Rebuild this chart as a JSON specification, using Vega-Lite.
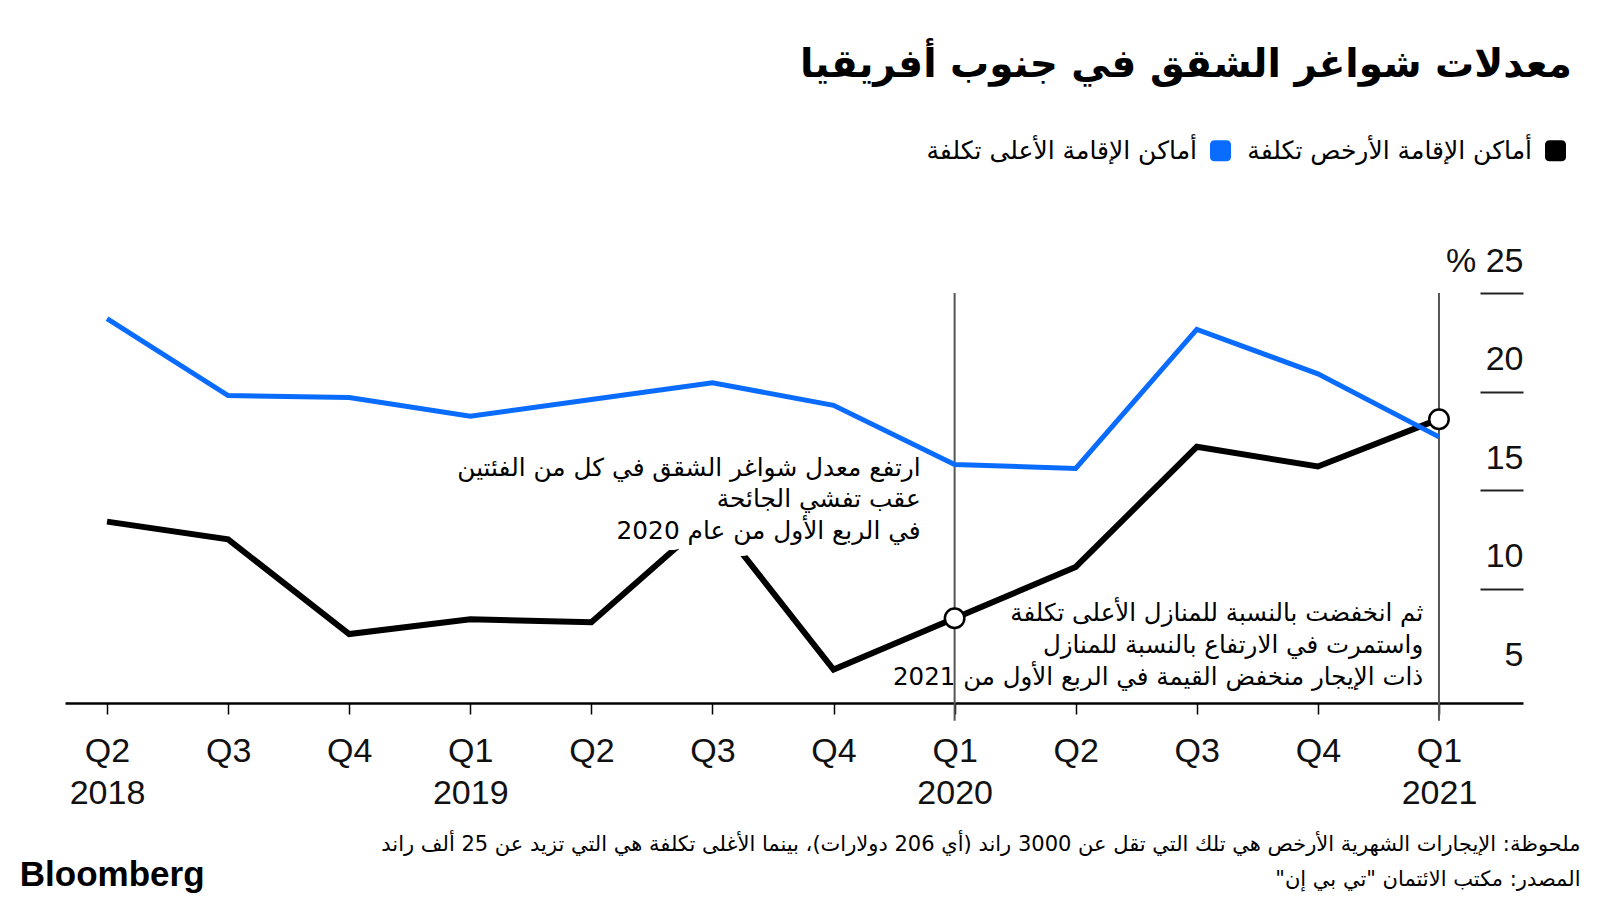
{
  "$schema": "https://vega.github.io/schema/vega-lite/v6.json",
  "width": 1458,
  "height": 410,
  "autosize": {"type": "none"},
  "padding": {"left": 65, "top": 293, "right": 77, "bottom": 197},
  "background": "white",
  "config": {"view": {"stroke": null}, "font": "Liberation Sans"},
  "title": {
    "text": "معدلات شواغر الشقق في جنوب أفريقيا",
    "anchor": "end",
    "align": "right",
    "frame": "group",
    "baseline": "alphabetic",
    "font": "DejaVu Sans",
    "fontSize": 39,
    "fontWeight": "bold",
    "color": "black",
    "dx": 49,
    "dy": -22,
    "offset": 0
  },
  "datasets": {
    "rates": [
      {"i": 0, "quarter": "Q2 2018", "category": "أماكن الإقامة الأرخص تكلفة", "rate": 13.4},
      {"i": 1, "quarter": "Q3 2018", "category": "أماكن الإقامة الأرخص تكلفة", "rate": 12.5},
      {"i": 2, "quarter": "Q4 2018", "category": "أماكن الإقامة الأرخص تكلفة", "rate": 7.7},
      {"i": 3, "quarter": "Q1 2019", "category": "أماكن الإقامة الأرخص تكلفة", "rate": 8.45},
      {"i": 4, "quarter": "Q2 2019", "category": "أماكن الإقامة الأرخص تكلفة", "rate": 8.3},
      {"i": 5, "quarter": "Q3 2019", "category": "أماكن الإقامة الأرخص تكلفة", "rate": 13.7},
      {"i": 6, "quarter": "Q4 2019", "category": "أماكن الإقامة الأرخص تكلفة", "rate": 5.9},
      {"i": 7, "quarter": "Q1 2020", "category": "أماكن الإقامة الأرخص تكلفة", "rate": 8.5},
      {"i": 8, "quarter": "Q2 2020", "category": "أماكن الإقامة الأرخص تكلفة", "rate": 11.1},
      {"i": 9, "quarter": "Q3 2020", "category": "أماكن الإقامة الأرخص تكلفة", "rate": 17.2},
      {"i": 10, "quarter": "Q4 2020", "category": "أماكن الإقامة الأرخص تكلفة", "rate": 16.2},
      {"i": 11, "quarter": "Q1 2021", "category": "أماكن الإقامة الأرخص تكلفة", "rate": 18.6},
      {"i": 0, "quarter": "Q2 2018", "category": "أماكن الإقامة الأعلى تكلفة", "rate": 23.7},
      {"i": 1, "quarter": "Q3 2018", "category": "أماكن الإقامة الأعلى تكلفة", "rate": 19.8},
      {"i": 2, "quarter": "Q4 2018", "category": "أماكن الإقامة الأعلى تكلفة", "rate": 19.7},
      {"i": 3, "quarter": "Q1 2019", "category": "أماكن الإقامة الأعلى تكلفة", "rate": 18.75},
      {"i": 4, "quarter": "Q2 2019", "category": "أماكن الإقامة الأعلى تكلفة", "rate": 19.6},
      {"i": 5, "quarter": "Q3 2019", "category": "أماكن الإقامة الأعلى تكلفة", "rate": 20.45},
      {"i": 6, "quarter": "Q4 2019", "category": "أماكن الإقامة الأعلى تكلفة", "rate": 19.3},
      {"i": 7, "quarter": "Q1 2020", "category": "أماكن الإقامة الأعلى تكلفة", "rate": 16.3},
      {"i": 8, "quarter": "Q2 2020", "category": "أماكن الإقامة الأعلى تكلفة", "rate": 16.1},
      {"i": 9, "quarter": "Q3 2020", "category": "أماكن الإقامة الأعلى تكلفة", "rate": 23.15},
      {"i": 10, "quarter": "Q4 2020", "category": "أماكن الإقامة الأعلى تكلفة", "rate": 20.9},
      {"i": 11, "quarter": "Q1 2021", "category": "أماكن الإقامة الأعلى تكلفة", "rate": 17.7}
    ]
  },
  "data": {"name": "rates"},
  "encoding": {
    "x": {
      "field": "i",
      "type": "quantitative",
      "scale": {"domain": [-0.347, 11.694], "nice": false, "zero": false},
      "axis": {
        "values": [0, 1, 2, 3, 4, 5, 6, 7, 8, 9, 10, 11],
        "labelExpr": "[['Q2','2018'],'Q3','Q4',['Q1','2019'],'Q2','Q3','Q4',['Q1','2020'],'Q2','Q3','Q4',['Q1','2021']][datum.value]",
        "labelFont": "Liberation Sans",
        "labelFontSize": 34,
        "labelColor": "#111111",
        "labelLineHeight": 42,
        "labelBaseline": "top",
        "labelPadding": 20,
        "labelFlush": false,
        "labelOverlap": false,
        "tickSize": 11,
        "tickColor": "black",
        "tickWidth": 1.5,
        "domainColor": "black",
        "domainWidth": 2.5,
        "grid": false,
        "title": ["ملحوظة: الإيجارات الشهرية الأرخص هي تلك التي تقل عن 3000 راند (أي 206 دولارات)، بينما الأغلى تكلفة هي التي تزيد عن 25 ألف راند", "المصدر: مكتب الائتمان \"تي بي إن\"‏"],
        "titleX": 1515,
        "titleY": 147,
        "titleAlign": "right",
        "titleAnchor": "end",
        "titleBaseline": "alphabetic",
        "titleFont": "DejaVu Sans",
        "titleFontSize": 21,
        "titleFontWeight": "normal",
        "titleColor": "black",
        "titleLineHeight": 35
      }
    },
    "y": {
      "field": "rate",
      "type": "quantitative",
      "scale": {"domain": [4.2, 25], "nice": false, "zero": false},
      "axis": {
        "orient": "right",
        "values": [5, 10, 15, 20, 25],
        "labelExpr": "datum.value == 25 ? '%  25' : datum.label",
        "tickSize": -43,
        "tickColor": "#222222",
        "tickWidth": 2,
        "tickOpacity": {"condition": {"test": "datum.value == 5", "value": 0}, "value": 1},
        "domain": false,
        "grid": false,
        "labelAlign": "right",
        "labelBaseline": "alphabetic",
        "labelOffset": -22,
        "labelPadding": 43,
        "labelFontSize": 34,
        "labelColor": "#111111",
        "title": null
      }
    }
  },
  "layer": [
    {
      "transform": [
        {"filter": {"field": "category", "equal": "أماكن الإقامة الأرخص تكلفة"}},
        {"filter": "datum.i == 7 || datum.i == 11"}
      ],
      "mark": {"type": "rule", "color": "#555555", "strokeWidth": 2},
      "encoding": {"y": {"datum": 25}, "y2": {"datum": 3.3}}
    },
    {
      "transform": [{"filter": {"field": "category", "equal": "أماكن الإقامة الأرخص تكلفة"}}],
      "mark": {"type": "line", "strokeWidth": 6, "strokeJoin": "miter"},
      "encoding": {
        "color": {
          "field": "category",
          "type": "nominal",
          "scale": {"domain": ["أماكن الإقامة الأعلى تكلفة", "أماكن الإقامة الأرخص تكلفة"], "range": ["#0a6cff", "#000000"]},
          "legend": {
            "orient": "none",
            "legendX": 1143,
            "legendY": -155,
            "direction": "horizontal",
            "title": null,
            "labelFont": "DejaVu Sans",
            "labelFontSize": 25,
            "labelColor": "black",
            "labelAlign": "right",
            "labelOffset": -36,
            "labelLimit": 0,
            "columnPadding": 16,
            "symbolType": "M -0.55 -1 L 0.55 -1 Q 1 -1 1 -0.55 L 1 0.55 Q 1 1 0.55 1 L -0.55 1 Q -1 1 -1 0.55 L -1 -0.55 Q -1 -1 -0.55 -1 Z",
            "symbolSize": 441,
            "symbolStrokeWidth": 0,
            "encode": {"symbols": {"update": {"fill": {"scale": "color", "field": "value"}, "strokeWidth": {"value": 0}, "opacity": {"value": 1}}}}
          }
        }
      }
    },
    {
      "transform": [{"filter": {"field": "category", "equal": "أماكن الإقامة الأعلى تكلفة"}}],
      "mark": {"type": "line", "strokeWidth": 5, "strokeJoin": "miter"},
      "encoding": {
        "color": {"field": "category", "type": "nominal"}
      }
    },
    {
      "transform": [{"filter": "datum.i == 0"}, {"filter": {"field": "category", "equal": "أماكن الإقامة الأرخص تكلفة"}}],
      "mark": {"type": "text", "text": "في الربع الأول من عام 2020", "align": "right", "baseline": "alphabetic", "font": "DejaVu Sans", "fontSize": 24.8, "color": "white", "stroke": "white", "strokeWidth": 22, "strokeJoin": "round"},
      "encoding": {"x": {"datum": 6.72}, "y": {"datum": 12.525}}
    },
    {
      "transform": [{"filter": "datum.i == 0"}, {"filter": {"field": "category", "equal": "أماكن الإقامة الأرخص تكلفة"}}],
      "mark": {"type": "text", "text": ["ارتفع معدل شواغر الشقق في كل من الفئتين", "عقب تفشي الجائحة", "في الربع الأول من عام 2020"], "align": "right", "baseline": "alphabetic", "lineHeight": 31.5, "font": "DejaVu Sans", "fontSize": 24.8, "color": "black"},
      "encoding": {"x": {"datum": 6.72}, "y": {"datum": 15.72}}
    },
    {
      "transform": [{"filter": "datum.i == 0"}, {"filter": {"field": "category", "equal": "أماكن الإقامة الأرخص تكلفة"}}],
      "mark": {"type": "text", "text": ["ثم انخفضت بالنسبة للمنازل الأعلى تكلفة", "واستمرت في الارتفاع بالنسبة للمنازل", "ذات الإيجار منخفض القيمة في الربع الأول من 2021"], "align": "right", "baseline": "alphabetic", "lineHeight": 32, "font": "DejaVu Sans", "fontSize": 24.5, "color": "black"},
      "encoding": {"x": {"datum": 10.87}, "y": {"datum": 8.37}}
    },
    {
      "transform": [
        {"filter": {"field": "category", "equal": "أماكن الإقامة الأرخص تكلفة"}},
        {"filter": "datum.i == 7 || datum.i == 11"}
      ],
      "mark": {"type": "point", "filled": true, "fill": "white", "stroke": "black", "strokeWidth": 2.5, "size": 380, "opacity": 1}
    },
    {
      "transform": [{"filter": "datum.i == 0"}, {"filter": {"field": "category", "equal": "أماكن الإقامة الأرخص تكلفة"}}],
      "mark": {"type": "text", "text": "Bloomberg", "align": "left", "baseline": "alphabetic", "font": "Liberation Sans", "fontWeight": "bold", "fontSize": 35, "color": "black"},
      "encoding": {"x": {"datum": -0.72}, "y": {"datum": -5.07}}
    }
  ]
}
